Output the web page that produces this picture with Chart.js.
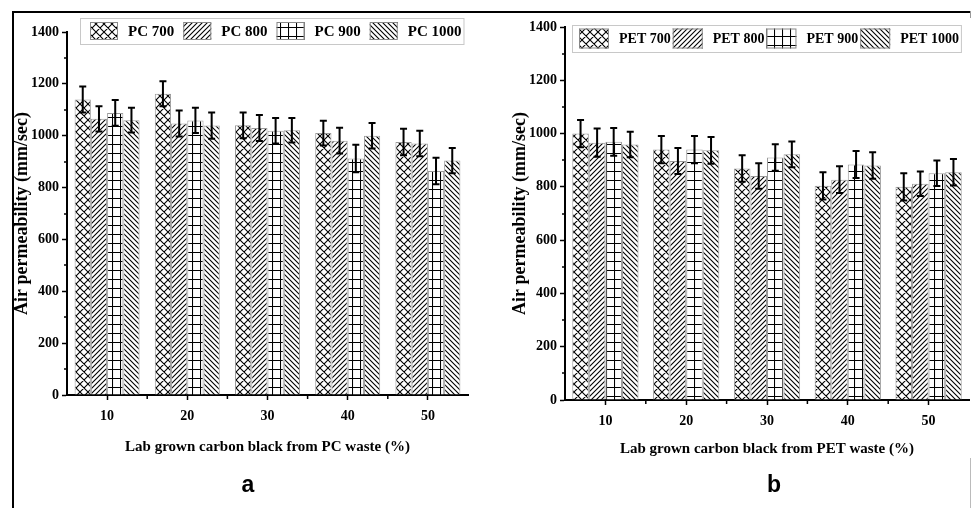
<!DOCTYPE html>
<html>
<head>
<meta charset="utf-8">
<script src="https://cdn.jsdelivr.net/npm/chart.js@4.4.1/dist/chart.umd.min.js"></script>
<style>
  body { margin: 0; background: #fff; }
  #page { position: relative; width: 972px; height: 508px; overflow: hidden; background: #fff; }
  canvas { position: absolute; top: 0; }
  #pc-chart { left: 0; }
  #pet-chart { left: 486px; }
  .line { position: absolute; background: #000; }
  .tag { position: absolute; width: 40px; text-align: center; font: bold 23px "Liberation Sans", Arial, sans-serif; line-height: 23px; color: #000; }
</style>
</head>
<body>
<div id="page">
  <canvas id="pc-chart" width="486" height="508"></canvas>
  <canvas id="pet-chart" width="486" height="508"></canvas>
  <div class="line" style="left:12px;top:11px;width:958px;height:2px"></div>
  <div class="line" style="left:12px;top:11px;width:2px;height:497px"></div>
  <div class="line" style="left:970px;top:11px;width:1px;height:7px;background:#999"></div>
  <div class="line" style="left:970px;top:458px;width:1px;height:50px;background:#bbb"></div>
  <div class="tag" style="left:228px;top:473px">a</div>
  <div class="tag" style="left:754px;top:473px">b</div>
</div>
<script>
// categories
const percent = ["10", "20", "30", "40", "50"];

// PC waste series (mm/sec)
const pc700 = [1140, 1162, 1040, 1010, 976];
const pc800 = [1065, 1047, 1030, 981, 970];
const pc900 = [1088, 1059, 1019, 912, 864];
const pc1000 = [1060, 1039, 1021, 1000, 904];
const pc700Err = [50, 48, 50, 48, 51];
const pc800Err = [49, 50, 50, 50, 49];
const pc900Err = [50, 49, 49, 53, 51];
const pc1000Err = [48, 51, 47, 49, 49];

// PET waste series (mm/sec)
const pet700 = [1000, 940, 869, 804, 800];
const pet800 = [966, 897, 841, 827, 812];
const pet900 = [969, 940, 910, 884, 851];
const pet1000 = [959, 937, 922, 880, 855];
const pet700Err = [51, 51, 50, 51, 51];
const pet800Err = [53, 49, 48, 50, 46];
const pet900Err = [52, 51, 50, 51, 48];
const pet1000Err = [48, 50, 48, 50, 50];

// y axis ticks
const yTicks = [0, 200, 400, 600, 800, 1000, 1200, 1400];

const serif = "'Liberation Serif', 'Times New Roman', serif";

// black and white hatch fills
function hatch(ctx, kind) {
  const w = kind === "fwd" || kind === "back" ? 5 : 8;
  const h = kind === "grid" ? 9 : w;
  const tile = document.createElement("canvas");
  tile.width = w;
  tile.height = h;
  const g = tile.getContext("2d");
  g.fillStyle = "#fff";
  g.fillRect(0, 0, w, h);
  g.strokeStyle = "#000";
  g.lineWidth = 1.1;
  g.beginPath();
  if (kind === "grid") {
    g.moveTo(0.5, 0); g.lineTo(0.5, h);
    g.moveTo(0, 0.5); g.lineTo(w, 0.5);
  }
  if (kind === "fwd" || kind === "cross") {
    g.moveTo(-1, h + 1); g.lineTo(w + 1, -1);
    g.moveTo(-1, 1); g.lineTo(1, -1);
    g.moveTo(w - 1, h + 1); g.lineTo(w + 1, h - 1);
  }
  if (kind === "back" || kind === "cross") {
    g.moveTo(-1, -1); g.lineTo(w + 1, h + 1);
    g.moveTo(w - 1, -1); g.lineTo(w + 1, 1);
    g.moveTo(-1, h - 1); g.lineTo(1, h + 1);
  }
  g.stroke();
  return ctx.createPattern(tile, "repeat");
}

// error bars with caps
const errorBars = {
  id: "errorBars",
  afterDatasetsDraw(chart) {
    const ctx = chart.ctx;
    const y = chart.scales.y;
    ctx.save();
    ctx.strokeStyle = "#000";
    ctx.lineWidth = 2;
    chart.data.datasets.forEach((ds, i) => {
      chart.getDatasetMeta(i).data.forEach((bar, j) => {
        const top = y.getPixelForValue(ds.data[j] + ds.errors[j]);
        const bot = y.getPixelForValue(ds.data[j] - ds.errors[j]);
        ctx.beginPath();
        ctx.moveTo(bar.x, top); ctx.lineTo(bar.x, bot);
        ctx.moveTo(bar.x - 3.5, top); ctx.lineTo(bar.x + 3.5, top);
        ctx.moveTo(bar.x - 3.5, bot); ctx.lineTo(bar.x + 3.5, bot);
        ctx.stroke();
      });
    });
    ctx.restore();
  }
};

// minor ticks: y every 100, x between categories
const minorTicks = {
  id: "minorTicks",
  afterDraw(chart) {
    const ctx = chart.ctx;
    const { x, y } = chart.scales;
    ctx.save();
    ctx.strokeStyle = "#000";
    ctx.lineWidth = 1.5;
    ctx.beginPath();
    for (let v = 100; v < 1400; v += 200) {
      const py = Math.round(y.getPixelForValue(v));
      ctx.moveTo(x.left, py); ctx.lineTo(x.left - 3, py);
    }
    for (let i = 1; i < percent.length; i++) {
      const px = (x.getPixelForTick(i - 1) + x.getPixelForTick(i)) / 2;
      ctx.moveTo(px, y.bottom); ctx.lineTo(px, y.bottom + 4);
    }
    ctx.stroke();
    ctx.restore();
  }
};

// legend inside a light box
const boxLegend = {
  id: "boxLegend",
  afterDraw(chart, args, o) {
    const ctx = chart.ctx;
    ctx.save();
    ctx.font = "bold " + o.size + "px " + serif;
    const widths = chart.data.datasets.map(ds => ctx.measureText(ds.label).width);
    const inner = widths.reduce((s, w) => s + o.sw + o.tgap + w, 0) + o.gap * (widths.length - 1);
    const boxW = o.padL + inner + o.padR;
    ctx.fillStyle = "#fff";
    ctx.fillRect(o.x, o.y, boxW, o.h);
    ctx.strokeStyle = "#c8c8c8";
    ctx.lineWidth = 1;
    ctx.strokeRect(o.x + 0.5, o.y + 0.5, boxW, o.h);
    let cx = o.x + o.padL;
    const cy = o.y + o.h / 2;
    chart.data.datasets.forEach((ds, i) => {
      ctx.fillStyle = ds.backgroundColor;
      ctx.fillRect(cx, cy - o.sh / 2, o.sw, o.sh);
      ctx.strokeStyle = "#888";
      ctx.strokeRect(cx + 0.5, cy - o.sh / 2 + 0.5, o.sw - 1, o.sh - 1);
      cx += o.sw + o.tgap;
      ctx.fillStyle = "#000";
      ctx.textBaseline = "middle";
      ctx.fillText(ds.label, cx, cy + 1);
      cx += widths[i] + o.gap;
    });
    ctx.restore();
  }
};

function makeChart(id, names, series, errs, xTitle, lay) {
  const canvas = document.getElementById(id);
  const ctx = canvas.getContext("2d");
  const kinds = ["cross", "fwd", "grid", "back"];
  return new Chart(canvas, {
    type: "bar",
    data: {
      labels: percent,
      datasets: names.map((n, i) => ({
        label: n,
        data: series[i],
        errors: errs[i],
        backgroundColor: hatch(ctx, kinds[i]),
        borderColor: "#9a9a9a",
        borderWidth: 1,
        categoryPercentage: lay.cat,
        barPercentage: 1
      }))
    },
    options: {
      responsive: false,
      animation: false,
      layout: { padding: { left: 0, top: lay.top, right: lay.right, bottom: lay.bottom } },
      plugins: {
        legend: { display: false },
        tooltip: { enabled: false },
        boxLegend: lay.legend
      },
      scales: {
        x: {
          offset: true,
          grid: { drawOnChartArea: false, offset: false, tickLength: 5, tickColor: "#000", tickWidth: 1.5 },
          border: { color: "#000", width: 2 },
          ticks: { color: "#000", padding: lay.xPad, font: { family: serif, weight: "bold", size: 14 } },
          title: {
            display: true, text: xTitle, color: "#000",
            font: { family: serif, weight: "bold", size: 15 },
            padding: { top: 0, bottom: lay.xTitlePad }
          },
          afterFit(s) { s.height = lay.xH; }
        },
        y: {
          min: 0,
          max: 1400,
          afterBuildTicks(s) { s.ticks = yTicks.map(v => ({ value: v })); },
          grid: { drawOnChartArea: false, tickLength: 5, tickColor: "#000", tickWidth: 1.5 },
          border: { color: "#000", width: 2 },
          ticks: {
            color: "#000", padding: 3,
            font: { family: serif, weight: "bold", size: 14 },
            callback: v => String(v)
          },
          title: {
            display: true, text: "Air permeability (mm/sec)", color: "#000",
            font: { family: serif, weight: "bold", size: 18 },
            padding: { top: lay.yTitlePad, bottom: 0 }
          },
          afterFit(s) { s.width = lay.yW; }
        }
      }
    },
    plugins: [errorBars, minorTicks, boxLegend]
  });
}

makeChart("pc-chart",
  ["PC 700", "PC 800", "PC 900", "PC 1000"],
  [pc700, pc800, pc900, pc1000],
  [pc700Err, pc800Err, pc900Err, pc1000Err],
  "Lab grown carbon black from PC waste (%)",
  { top: 32, right: 18, bottom: 48, xH: 65, yW: 67, cat: 0.81, xPad: 8, xTitlePad: 4, yTitlePad: 12,
    legend: { x: 80, y: 18, h: 26, size: 15, padL: 10, padR: 2, sw: 28, sh: 18, tgap: 10, gap: 9 } });

makeChart("pet-chart",
  ["PET 700", "PET 800", "PET 900", "PET 1000"],
  [pet700, pet800, pet900, pet1000],
  [pet700Err, pet800Err, pet900Err, pet1000Err],
  "Lab grown carbon black from PET waste (%)",
  { top: 27, right: 3, bottom: 48, xH: 60, yW: 79, cat: 0.82, xPad: 8, xTitlePad: 2, yTitlePad: 24,
    legend: { x: 86, y: 25, h: 27, size: 14, padL: 7, padR: 2, sw: 30, sh: 20, tgap: 10, gap: 2 } });
</script>
</body>
</html>
